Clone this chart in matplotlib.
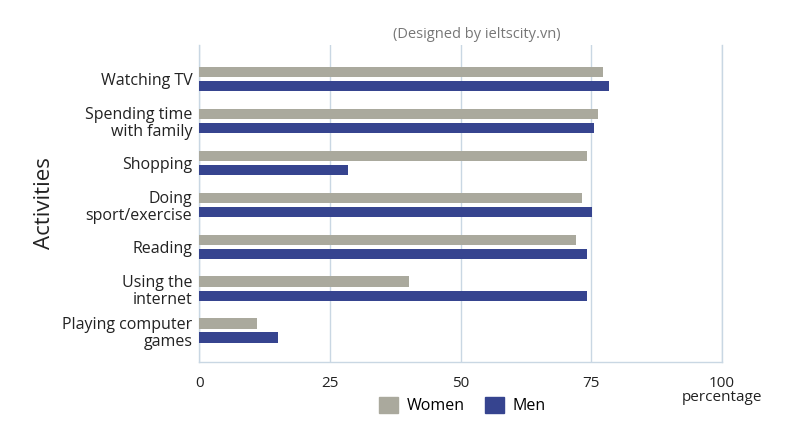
import matplotlib.pyplot as plt
import numpy as np
from matplotlib.patches import Patch

plt.rcParams["font.family"] = ["Open Sans", "DejaVu Sans"]

activities = [
    "Watching TV",
    "Spending time\nwith family",
    "Shopping",
    "Doing\nsport/exercise",
    "Reading",
    "Using the\ninternet",
    "Playing computer\ngames",
]
women = [77.3, 76.3, 74.1, 73.3, 72.0, 40.1, 11.0]
men = [78.4, 75.6, 28.4, 75.2, 74.1, 74.1, 15.1]
x_ticks = [0, 25, 50, 75, 100]

WOMEN_COLOR = "#aaa99d"
MEN_COLOR = "#36448f"
GRID_COLOR = "#c9d7e3"
TEXT_COLOR = "#222222"

fig = plt.figure(figsize=(8, 4.42), dpi=100)
ax = fig.add_axes([0.249, 0.181, 0.6535, 0.717])

y = np.arange(len(activities))
bar_h = 0.24
off = 0.167
ax.barh(y - off, women, height=bar_h, color=WOMEN_COLOR, zorder=3)
ax.barh(y + off, men, height=bar_h, color=MEN_COLOR, zorder=3)

ax.set_xlim(0, 100)
ax.set_ylim(len(activities) - 1 + 0.75, -0.80)
ax.set_xticks(x_ticks)
ax.set_xticklabels([str(t) for t in x_ticks], fontsize=11, color=TEXT_COLOR)
ax.set_yticks(y)
ax.set_yticklabels(activities, fontsize=11.5, color=TEXT_COLOR,
                   linespacing=1.15)
ax.tick_params(axis="both", length=0)
ax.tick_params(axis="x", pad=10)
ax.tick_params(axis="y", pad=5)

ax.grid(axis="x", color=GRID_COLOR, linewidth=1, zorder=0)
ax.spines["top"].set_visible(False)
for side in ["left", "bottom", "right"]:
    ax.spines[side].set_color(GRID_COLOR)
    ax.spines[side].set_linewidth(1)

ax.set_ylabel("Activities", fontsize=16, color=TEXT_COLOR, labelpad=5)

fig.text(0.596, 0.923, "(Designed by ieltscity.vn)", ha="center", va="center",
         fontsize=10.5, color="#777777")
fig.text(0.9025, 0.10, "percentage", ha="center", va="center",
         fontsize=11, color=TEXT_COLOR)

handles = [Patch(color=WOMEN_COLOR, label="Women"),
           Patch(color=MEN_COLOR, label="Men")]
fig.legend(handles=handles, loc="center", bbox_to_anchor=(0.578, 0.083),
           ncol=2, frameon=False, fontsize=11.5, handlelength=1.2,
           handleheight=1.2, columnspacing=1.3, handletextpad=0.5)

fig.savefig("out.png", dpi=100, facecolor="white")
